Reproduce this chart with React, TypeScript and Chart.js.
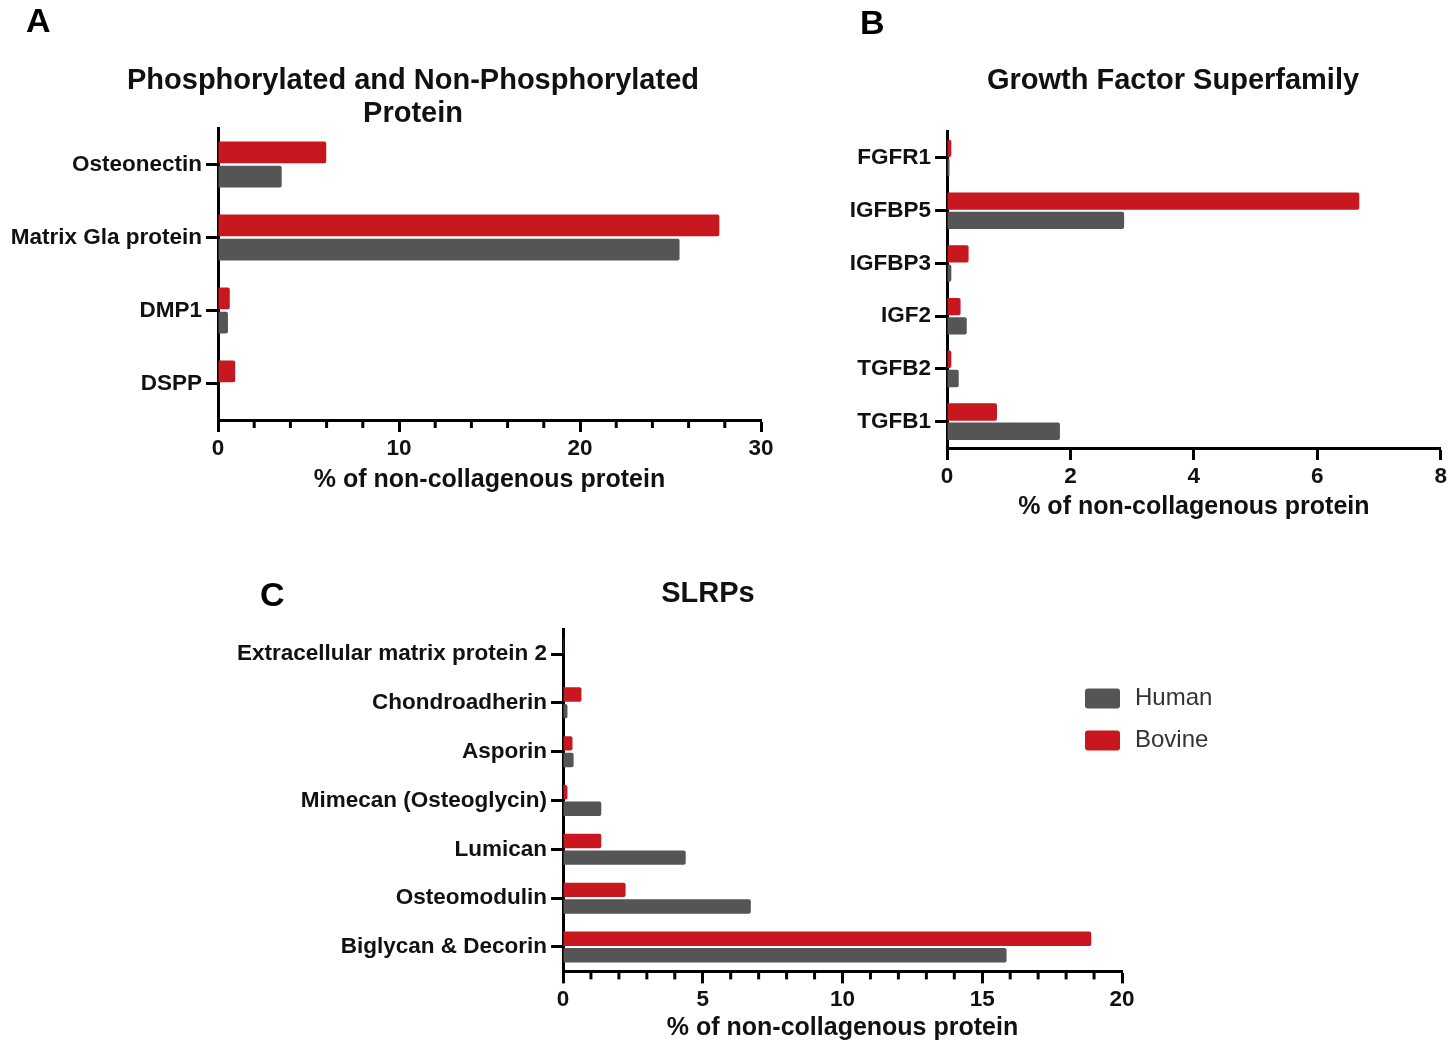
import React, { useEffect, useRef } from "react";
import { Chart, registerables } from "chart.js";

Chart.register(...registerables);

const FONT = "'Liberation Sans', Arial, Helvetica, sans-serif";
const RED = "#C8171E";
const GREY = "#555555";
const TEXT = "#111111";

// Panel A – Phosphorylated and Non-Phosphorylated Protein
const catsA = ["Osteonectin", "Matrix Gla protein", "DMP1", "DSPP"];
const humanA = [3.52, 25.5, 0.55, 0.03];
const bovineA = [5.98, 27.7, 0.65, 0.95];

// Panel B – Growth Factor Superfamily
const catsB = ["FGFR1", "IGFBP5", "IGFBP3", "IGF2", "TGFB2", "TGFB1"];
const humanB = [0.04, 2.87, 0.07, 0.32, 0.19, 1.83];
const bovineB = [0.07, 6.68, 0.35, 0.22, 0.07, 0.81];

// Panel C – SLRPs
const catsC = [
  "Extracellular matrix protein 2",
  "Chondroadherin",
  "Asporin",
  "Mimecan (Osteoglycin)",
  "Lumican",
  "Osteomodulin",
  "Biglycan & Decorin",
];
const humanC = [0.0, 0.16, 0.38, 1.37, 4.39, 6.72, 15.87];
const bovineC = [0.04, 0.66, 0.34, 0.16, 1.37, 2.24, 18.9];

const seriesNames = ["Bovine", "Human"];
const axisTitle = "% of non-collagenous protein";
const titleA = ["Phosphorylated and Non-Phosphorylated", "Protein"];
const titleB = ["Growth Factor Superfamily"];
const titleC = ["SLRPs"];

const minorTicks = {
  id: "minorTicks",
  afterDraw(chart: any, _args: any, opts: any) {
    if (!opts || !opts.step) return;
    const s = chart.scales.x;
    const ctx = chart.ctx;
    ctx.save();
    ctx.strokeStyle = "#000";
    ctx.lineWidth = 3;
    for (let v = s.min; v <= s.max + 1e-9; v += opts.step) {
      const r = v / opts.major;
      if (Math.abs(r - Math.round(r)) < 1e-6) continue;
      const x = s.getPixelForValue(v);
      ctx.beginPath();
      ctx.moveTo(x, s.top);
      ctx.lineTo(x, s.top + opts.len);
      ctx.stroke();
    }
    ctx.restore();
  },
};

const panelTitle = {
  id: "panelTitle",
  afterDraw(chart: any, _args: any, opts: any) {
    if (!opts || !opts.lines) return;
    const ctx = chart.ctx;
    ctx.save();
    ctx.fillStyle = TEXT;
    ctx.font = `bold 29px ${FONT}`;
    ctx.textAlign = "center";
    ctx.textBaseline = "middle";
    opts.lines.forEach((t: string, i: number) => {
      ctx.fillText(t, opts.cx, opts.cy + i * opts.lh);
    });
    ctx.restore();
  },
};

const boxLegend = {
  id: "boxLegend",
  afterDraw(chart: any, _args: any, opts: any) {
    if (!opts || !opts.show) return;
    const { ctx, chartArea } = chart;
    const items = [...chart.data.datasets].reverse();
    ctx.save();
    items.forEach((ds: any, i: number) => {
      const bx = chartArea.right + opts.dx;
      const by = chartArea.top + opts.dy + i * opts.gap;
      ctx.fillStyle = ds.backgroundColor;
      ctx.beginPath();
      (ctx as any).roundRect(bx, by, opts.w, opts.h, 3);
      ctx.fill();
      ctx.fillStyle = "#333";
      ctx.font = `24px ${FONT}`;
      ctx.textBaseline = "middle";
      ctx.textAlign = "left";
      ctx.fillText(ds.label, bx + opts.w + 15, by + opts.h / 2);
    });
    ctx.restore();
  },
};

type Cfg = {
  cats: string[];
  human: number[];
  bovine: number[];
  title: string[];
  titleCx: number;
  titleCy: number;
  max: number;
  step: number;
  minor: number;
  width: number;
  height: number;
  padR: number;
  padTop: number;
  yWidth: number;
  xHeight: number;
  axisTitlePadBottom: number;
  catPct: number;
  barPct: number;
  legend?: boolean;
};

function Panel({ cfg, left, top }: { cfg: Cfg; left: number; top: number }) {
  const ref = useRef<HTMLCanvasElement>(null);
  useEffect(() => {
    const bold = (size: number) => ({ family: FONT, size, weight: "bold" as const, lineHeight: 1.2 });
    const chart = new Chart(ref.current!, {
      type: "bar",
      data: {
        labels: cfg.cats,
        datasets: [
          { label: seriesNames[0], data: cfg.bovine, backgroundColor: RED, borderRadius: 2, categoryPercentage: cfg.catPct, barPercentage: cfg.barPct },
          { label: seriesNames[1], data: cfg.human, backgroundColor: GREY, borderRadius: 2, categoryPercentage: cfg.catPct, barPercentage: cfg.barPct },
        ],
      },
      options: {
        indexAxis: "y",
        responsive: false,
        animation: false,
        devicePixelRatio: 1,
        layout: { padding: { left: 0, right: cfg.padR, top: cfg.padTop, bottom: 0 } },
        scales: {
          x: {
            type: "linear",
            min: 0,
            max: cfg.max,
            afterFit: (s: any) => {
              s.height = cfg.xHeight;
            },
            ticks: { stepSize: cfg.step, font: bold(22.5), color: TEXT, padding: 3, maxRotation: 0, autoSkip: false },
            grid: { display: true, drawOnChartArea: false, drawTicks: true, tickLength: 12, tickWidth: 3, tickColor: "#000" },
            border: { display: true, color: "#000", width: 3 },
            title: { display: true, text: axisTitle, font: bold(25), color: TEXT, padding: { top: 0, bottom: cfg.axisTitlePadBottom } },
          },
          y: {
            type: "category",
            offset: true,
            afterFit: (s: any) => {
              s.width = cfg.yWidth;
            },
            ticks: { font: bold(22.5), color: TEXT, padding: 4, autoSkip: false },
            grid: { display: true, offset: false, drawOnChartArea: false, drawTicks: true, tickLength: 12, tickWidth: 3, tickColor: "#000" },
            border: { display: true, color: "#000", width: 3 },
          },
        },
        plugins: {
          legend: { display: false },
          tooltip: { enabled: false },
          title: { display: false },
          panelTitle: { lines: cfg.title, cx: cfg.titleCx, cy: cfg.titleCy, lh: 33 },
          minorTicks: { step: cfg.minor, major: cfg.step, len: 8 },
          boxLegend: { show: !!cfg.legend, dx: -37, dy: 59, gap: 42, w: 35, h: 20 },
        } as any,
      },
      plugins: [minorTicks, boxLegend, panelTitle],
    } as any);
    return () => chart.destroy();
  }, []);
  return (
    <canvas
      ref={ref}
      width={cfg.width}
      height={cfg.height}
      style={{ position: "absolute", left, top, width: cfg.width, height: cfg.height }}
    />
  );
}

const cfgA: Cfg = {
  cats: catsA, human: humanA, bovine: bovineA,
  title: titleA, titleCx: 413, titleCy: 81,
  max: 30, step: 10, minor: 2,
  width: 800, height: 510, padR: 39, padTop: 128, yWidth: 218, xHeight: 90,
  axisTitlePadBottom: 15,
  catPct: 0.66, barPct: 0.9,
};

const cfgB: Cfg = {
  cats: catsB, human: humanB, bovine: bovineB,
  title: titleB, titleCx: 343, titleCy: 81,
  max: 8, step: 2, minor: 0,
  width: 620, height: 540, padR: 7, padTop: 131.6, yWidth: 117, xHeight: 92,
  axisTitlePadBottom: 18,
  catPct: 0.73, barPct: 0.9,
};

const cfgC: Cfg = {
  cats: catsC, human: humanC, bovine: bovineC,
  title: titleC, titleCx: 488, titleCy: 54,
  max: 20, step: 5, minor: 1,
  width: 1010, height: 510, padR: 108, padTop: 89.6, yWidth: 343, xHeight: 78.6,
  axisTitlePadBottom: 7,
  catPct: 0.68, barPct: 0.87, legend: true,
};

const letterStyle = (left: number, top: number): React.CSSProperties => ({
  position: "absolute",
  left,
  top,
  fontFamily: FONT,
  fontWeight: "bold",
  fontSize: 34,
  lineHeight: "34px",
  color: "#000",
});

export default function App() {
  return (
    <div style={{ position: "absolute", left: 0, top: 0, width: 1450, height: 1050, background: "#fff", overflow: "hidden" }}>
      <Panel cfg={cfgA} left={0} top={0} />
      <Panel cfg={cfgB} left={830} top={0} />
      <Panel cfg={cfgC} left={220} top={540} />
      <div style={letterStyle(26, 3)}>A</div>
      <div style={letterStyle(860, 5)}>B</div>
      <div style={letterStyle(260, 577)}>C</div>
    </div>
  );
}
